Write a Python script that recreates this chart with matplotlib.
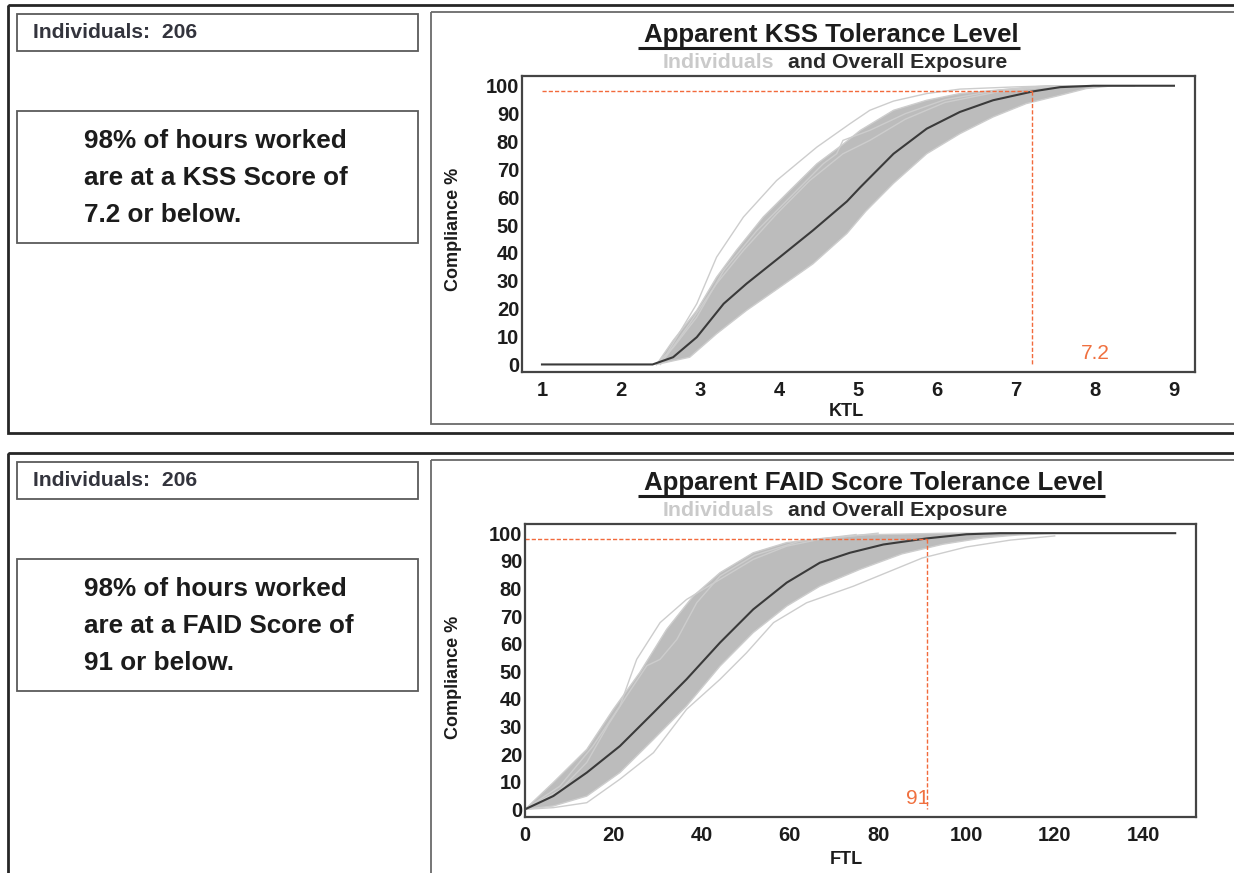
import matplotlib
matplotlib.use("Agg")
import matplotlib.pyplot as plt
from matplotlib.patches import Rectangle
import numpy as np

plt.rcParams['font.family'] = ['Liberation Sans', 'DejaVu Sans']

W, H = 1234, 873

# ---- data: KSS tolerance level (top) ----
ktl_ticks = [1, 2, 3, 4, 5, 6, 7, 8, 9]
ktl_x = [1.0, 2.4, 2.66, 2.96, 3.30, 3.59, 4.01, 4.43, 4.86, 5.03, 5.45, 5.87, 6.29, 6.71, 7.22, 7.56, 7.98, 9.0]
ktl_overall = [0, 0, 2.6, 9.8, 21.8, 29.0, 38.5, 48.1, 58.5, 63.6, 75.6, 84.6, 90.6, 94.8, 98.0, 99.5, 100, 100]
ktl_band_hi_x = [2.45, 2.66, 2.96, 3.21, 3.46, 3.80, 4.14, 4.48, 4.81, 5.03, 5.45, 5.87, 6.29, 6.71, 7.13, 7.4, 8.5]
ktl_band_hi_y = [0, 8.6, 19.4, 31.3, 40.9, 52.9, 62.5, 72.0, 79.0, 84.0, 91.2, 94.8, 97.2, 98.3, 99.4, 100, 100]
ktl_band_lo_x = [2.45, 2.87, 3.21, 3.59, 4.01, 4.43, 4.86, 5.10, 5.45, 5.87, 6.29, 6.71, 7.13, 7.56, 7.89, 8.23, 8.5]
ktl_band_lo_y = [0, 2.6, 11.0, 19.4, 27.7, 36.1, 47.0, 55.0, 65.0, 75.6, 82.8, 88.8, 93.6, 96.6, 99.0, 100, 100]
ktl_ind_a_x = [2.45, 2.58, 2.96, 3.21, 3.55, 3.97, 4.48, 4.90, 5.15, 5.45, 5.87, 6.29, 7.0, 7.5]
ktl_ind_a_y = [0, 3.8, 21.8, 38.5, 52.9, 66.0, 78.0, 86.4, 91.2, 94.5, 97.2, 98.8, 99.6, 100]
ktl_ind_b_x = [2.45, 2.66, 2.96, 3.30, 3.72, 4.14, 4.56, 4.73, 4.81, 5.15, 5.6, 6.1, 6.8, 7.5]
ktl_ind_b_y = [0, 6.0, 17.0, 33.7, 48.0, 60.0, 72.0, 75.6, 80.4, 84.0, 90.0, 95.0, 98.5, 100]
ktl_ind_c_x = [2.5, 2.87, 3.21, 3.55, 3.97, 4.39, 4.81, 5.15, 5.6, 6.1, 6.8, 7.6]
ktl_ind_c_y = [0, 14.7, 29.0, 40.9, 54.0, 66.0, 75.6, 80.4, 88.0, 94.0, 98.0, 100]
ktl_level = 7.2

# ---- data: FAID score tolerance level (bottom) ----
ftl_ticks = [0, 20, 40, 60, 80, 100, 120, 140]
ftl_x = [0, 6.4, 14.0, 21.5, 29.1, 36.6, 44.2, 51.7, 59.3, 66.8, 73.6, 81.2, 91.0, 100.0, 107.6, 147.3]
ftl_overall = [0, 4.8, 13.3, 22.9, 35.0, 47.1, 60.4, 72.4, 82.1, 89.3, 92.9, 95.9, 98.1, 99.6, 100, 100]
ftl_band_hi_x = [0, 6.4, 14.0, 20.0, 26.0, 32.1, 38.1, 44.2, 51.7, 59.3, 66.8, 77.0, 96.0, 120.0]
ftl_band_hi_y = [0, 9.7, 21.7, 36.2, 49.5, 65.2, 77.2, 85.7, 92.9, 96.6, 98.0, 99.4, 100, 100]
ftl_band_lo_x = [0, 6.4, 14.0, 21.5, 29.1, 36.6, 44.2, 51.7, 59.3, 66.8, 75.9, 85.4, 94.7, 103.8, 111.4, 120.0]
ftl_band_lo_y = [0, 1.2, 4.8, 13.3, 25.3, 37.4, 51.9, 64.0, 73.6, 80.8, 86.9, 92.5, 96.0, 98.3, 99.3, 100]
ftl_ind_a_x = [0, 7.9, 15.4, 21.5, 25.3, 30.6, 36.6, 44.2, 51.7, 59.3, 66.8, 80.0]
ftl_ind_a_y = [0, 8.4, 22.9, 37.4, 54.3, 67.6, 76.0, 83.3, 90.5, 95.3, 97.8, 100]
ftl_ind_b_x = [0, 8.0, 14.0, 19.0, 23.0, 27.6, 30.6, 34.4, 38.9, 44.2, 52.0, 62.0, 75.0]
ftl_ind_b_y = [0, 7.0, 17.0, 31.0, 41.0, 52.0, 54.3, 61.5, 74.8, 84.5, 92.0, 97.0, 99.5]
ftl_ind_c_x = [0, 6.4, 14.0, 21.5, 29.1, 36.6, 44.2, 50.2, 56.3, 63.8, 74.4, 90.0, 100.0, 110.0, 120.0]
ftl_ind_c_y = [0, 0.6, 2.4, 10.9, 20.5, 36.2, 47.1, 56.7, 67.6, 74.8, 80.8, 91.0, 95.0, 97.5, 99.0]
ftl_level = 91

compliance_pct = 98
n_individuals = 206
y_ticks = [0, 10, 20, 30, 40, 50, 60, 70, 80, 90, 100]

RED = '#f26a3c'
BAND = '#bcbcbc'
IND = '#cdcdcd'
DARK = '#3a3a3a'

fig = plt.figure(figsize=(W / 100, H / 100), dpi=100)

# background layer in pixel coordinates for the frames and boxes
bg = fig.add_axes([0, 0, 1, 1], zorder=0)
bg.set_xlim(0, W)
bg.set_ylim(H, 0)
bg.axis('off')


def box(x0, y0, x1, y1, color, lw):
    bg.add_patch(Rectangle((x0, y0), x1 - x0, y1 - y0, fill=False,
                           edgecolor=color, linewidth=lw))


def px_axes(left, top, right, bottom):
    return fig.add_axes([left / W, (H - bottom) / H, (right - left) / W, (bottom - top) / H], zorder=2)


def draw_panel(dy, score_name, level, level_txt, title, xlabel, axrect, xlim, ticks,
               xo, yo, bhx, bhy, blx, bly, inds, line_start, label_ha, label_x):
    # frames
    box(8, 5 + dy, 1300, 433 + dy if dy == 0 else 1000, '#262626', 2.0)
    box(17, 14 + dy, 418, 51 + dy, '#5a5a5a', 1.3)
    box(17, 111 + dy, 418, 243 + dy, '#5a5a5a', 1.3)
    box(431, 12 + dy, 1300, 424 + dy if dy == 0 else 1000, '#6a6a6a', 1.3)

    bg.text(33, 33 + dy, 'Individuals:  %d' % n_individuals, fontsize=15.2, fontweight='bold',
            color='#33343d', va='center', ha='left')
    lines = ['%d%% of hours worked' % compliance_pct,
             'are at a %s Score of' % score_name,
             '%s or below.' % level_txt]
    for i, ln in enumerate(lines):
        bg.text(84, 148.5 + dy + i * 36.6, ln, fontsize=18.8, fontweight='bold',
                color='#1c1c1c', va='baseline', ha='left')

    t = bg.text(644, 42 + dy, title, fontsize=18.6, fontweight='bold', color='#1c1c1c',
                va='baseline', ha='left')
    s1 = bg.text(663, 67.5 + dy, 'Individuals', fontsize=15.3, fontweight='bold',
                 color='#cacaca', va='baseline', ha='left')
    bg.annotate('and Overall Exposure', xy=(1, 0), xycoords=s1, xytext=(13, 0),
                textcoords='offset pixels', fontsize=15.3, fontweight='bold', color='#2a2a2a',
                va='bottom', ha='left')
    fig.canvas.draw()
    bb = t.get_window_extent()
    bg.plot([bb.x0 - 6, bb.x1 + 1], [47.8 + dy, 47.8 + dy], color='#1c1c1c', lw=2.2,
            solid_capstyle='butt')

    bg.text(453, 229 + dy, 'Compliance %', rotation=90, fontsize=13, fontweight='bold',
            color='#1c1c1c', va='center', ha='center')
    bg.text(846, 412 + dy, xlabel, fontsize=13, fontweight='bold', color='#1c1c1c',
            va='center', ha='center')

    ax = px_axes(*axrect)
    ax.fill(np.concatenate([bhx, blx[::-1]]), np.concatenate([bhy, bly[::-1]]),
            color=BAND, lw=0)
    for ix, iy in inds:
        ax.plot(ix, iy, color=IND, lw=1.0)
    ax.plot(bhx, bhy, color=IND, lw=1.0)
    ax.plot(blx, bly, color=IND, lw=1.0)
    ax.plot(xo, yo, color=DARK, lw=1.5)

    ax.plot([line_start, level], [compliance_pct, compliance_pct], color=RED, lw=1.0,
            linestyle=(0, (3, 1.5)))
    ax.plot([level, level], [compliance_pct, 0], color=RED, lw=1.0, linestyle=(0, (3, 1.5)))
    ax.text(label_x, 0.5, level_txt, color='#f0703f', fontsize=15, ha=label_ha, va='bottom')

    ax.set_xlim(*xlim)
    ax.set_ylim(-2.6, 103.5)
    ax.set_xticks(ticks)
    ax.set_yticks(y_ticks)
    ax.tick_params(length=0, labelsize=14.5, colors='#1c1c1c', pad=2)
    ax.tick_params(axis='x', pad=7)
    for lab in ax.get_xticklabels() + ax.get_yticklabels():
        lab.set_fontweight('bold')
    for sp in ax.spines.values():
        sp.set_color('#444444')
        sp.set_linewidth(1.6)
    ax.set_facecolor('white')
    return ax


draw_panel(0, 'KSS', ktl_level, '7.2', 'Apparent KSS Tolerance Level', 'KTL',
           (522, 76, 1194.5, 371.7), (0.747, 9.26), ktl_ticks,
           ktl_x, ktl_overall,
           np.array(ktl_band_hi_x), np.array(ktl_band_hi_y),
           np.array(ktl_band_lo_x), np.array(ktl_band_lo_y),
           [(ktl_ind_a_x, ktl_ind_a_y), (ktl_ind_b_x, ktl_ind_b_y), (ktl_ind_c_x, ktl_ind_c_y)],
           1.0, 'center', 8.0)

draw_panel(448, 'FAID', ftl_level, '91', 'Apparent FAID Score Tolerance Level', 'FTL',
           (525, 523.5, 1195.5, 816.5), (0, 151.9), ftl_ticks,
           ftl_x, ftl_overall,
           np.array(ftl_band_hi_x), np.array(ftl_band_hi_y),
           np.array(ftl_band_lo_x), np.array(ftl_band_lo_y),
           [(ftl_ind_a_x, ftl_ind_a_y), (ftl_ind_b_x, ftl_ind_b_y), (ftl_ind_c_x, ftl_ind_c_y)],
           0.0, 'right', 91.5)

fig.savefig('out.png', dpi=100)
